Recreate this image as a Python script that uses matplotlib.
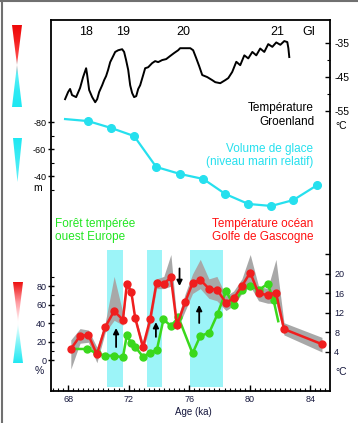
import matplotlib
matplotlib.use('Agg')
import matplotlib.pyplot as plt
import numpy as np
from matplotlib.colors import LinearSegmentedColormap
from matplotlib.patches import Polygon
from matplotlib.ticker import MultipleLocator

plt.rcParams['font.family'] = ['Liberation Sans', 'DejaVu Sans']
plt.rcParams['axes.unicode_minus'] = False

# Greenland temperature (deg C) vs age (ka)
grn_age = [67.80, 68.00, 68.13, 68.26, 68.53, 68.79, 68.99, 69.19, 69.26, 69.39,
           69.59, 69.79, 69.92, 70.05, 70.25, 70.38, 70.51, 70.64, 70.78, 70.98,
           71.11, 71.31, 71.57, 71.70, 71.83, 71.97, 72.10, 72.23, 72.36, 72.50,
           72.63, 72.76, 72.96, 73.09, 73.29, 73.55, 73.75, 73.95, 74.21, 74.48,
           74.74, 75.01, 75.27, 75.40, 76.07, 76.26, 76.46, 76.66, 76.86, 77.19,
           77.52, 77.72, 78.05, 78.38, 78.58, 78.84, 79.11, 79.37, 79.64, 79.90,
           80.17, 80.43, 80.69, 80.96, 81.22, 81.49, 81.75, 82.02, 82.28, 82.48,
           82.55, 82.61]
grn_temp = [-51.5, -49.4, -48.5, -50.3, -50.9, -48.2, -45.0, -42.4, -44.4, -48.8,
            -50.9, -52.4, -51.5, -49.4, -47.4, -45.9, -44.7, -42.9, -40.6, -38.8,
            -37.6, -37.1, -36.8, -37.6, -40.0, -42.9, -47.4, -49.7, -50.9, -50.6,
            -48.5, -47.4, -44.4, -42.4, -42.1, -40.9, -40.3, -40.6, -40.0, -39.7,
            -38.8, -37.9, -37.1, -36.5, -36.5, -37.1, -39.4, -41.8, -44.4, -45.0,
            -45.9, -46.5, -46.8, -45.9, -45.3, -43.5, -40.5, -41.5, -38.6, -39.5,
            -37.6, -38.6, -36.6, -37.6, -35.3, -36.1, -34.8, -35.5, -34.4, -34.7,
            -36.5, -39.1]

# relative sea level (m)
sl_age = [67.80, 69.32, 70.84, 72.36, 73.82, 75.40, 76.93, 78.38, 79.90, 81.42, 82.88, 84.46]
sl_m = [-82.2, -80.7, -75.6, -69.6, -46.7, -41.5, -37.8, -26.7, -19.3, -17.8, -22.2, -33.3]

# ocean temperature, Bay of Biscay (deg C) + envelope
sst_age = [68.18, 68.79, 69.34, 69.90, 70.45, 71.04, 71.62, 71.88, 72.17, 72.43,
           72.94, 73.42, 73.84, 74.32, 74.79, 75.19, 75.74, 76.22, 76.73, 77.30,
           77.83, 78.43, 78.93, 79.48, 80.03, 80.58, 81.18, 81.73, 82.26, 84.77]
sst = [4.6, 7.3, 7.5, 3.5, 9.1, 12.4, 10.6, 17.9, 16.4, 11.0,
       5.0, 10.7, 18.2, 18.0, 19.3, 9.5, 14.3, 18.1, 18.8, 17.0,
       16.8, 14.1, 15.0, 17.5, 20.3, 16.0, 15.7, 16.2, 8.7, 5.6]
sst_hi = [6.5, 8.8, 8.5, 5.0, 10.0, 19.5, 12.0, 18.5, 17.0, 11.5,
          6.0, 11.5, 19.0, 19.5, 24.0, 10.5, 16.0, 20.0, 23.0, 19.0,
          19.5, 15.5, 16.5, 19.0, 24.0, 17.5, 17.0, 23.0, 10.0, 7.0]
sst_lo = [0.5, 5.8, 6.0, 1.8, 8.0, 10.5, 9.5, 17.0, 15.5, 10.0,
          4.0, 9.5, 17.0, 17.0, 17.5, 8.5, 12.5, 16.0, 17.0, 15.0,
          14.5, 12.5, 13.5, 16.0, 17.5, 14.5, 14.0, 14.0, 7.5, 4.0]

# temperate forest, western Europe (%)
for_age = [68.18, 69.28, 69.90, 70.45, 71.04, 71.62, 71.88, 72.17, 72.43, 72.94,
           73.42, 73.86, 74.30, 74.79, 75.29, 76.22, 76.73, 77.32, 77.87, 78.43,
           78.93, 79.48, 80.03, 80.58, 81.18, 81.57, 81.88]
for_pct = [12, 11.9, 7.2, 4.7, 4.7, 2.9, 27, 18, 14.4, 3.6,
           7.9, 10.8, 44, 36.8, 46, 7.2, 26, 29.5, 49.7, 74.6,
           59.5, 75.7, 80.4, 75.7, 82.2, 65, 42]

bands = [(70.58, 71.64), (73.2, 74.2), (76.07, 78.2)]

RED = '#f01e1e'
GREEN = '#3ad81c'
CYAN = '#26e0ee'
NAVY = '#15173d'

fig = plt.figure(figsize=(3.58, 4.23), dpi=100)
ax = fig.add_axes([51/358, 32/423, 279/358, 371/423])
ax2 = ax.twinx()
ax3 = ax.twinx()
ax4 = ax.twinx()

# cyan stadial bands and grey envelope (drawn under the curves)
for a0, a1 in bands:
    ax.axvspan(a0, a1, ymin=0.011, ymax=0.38, color='#9cf4f8', lw=0, zorder=0)
ax.fill_between(sst_age, sst_lo, sst_hi, color='#a8a8a8', lw=0,
                transform=ax2.transData, zorder=1)

ax.plot(for_age, for_pct, color=GREEN, lw=1.8, marker='o', ms=5,
        markevery=list(range(1, len(for_age) - 1)), zorder=2)
ax2.plot(sst_age, sst, color=RED, lw=1.8, marker='o', ms=5, zorder=3)
ax3.plot(grn_age, grn_temp, color='black', lw=1.4)
ax4.plot(sl_age, sl_m, color=CYAN, lw=1.6, marker='o', ms=5.5,
         markevery=list(range(1, len(sl_age))))

# arrows
arr = dict(arrowstyle='-|>', color='black', lw=1.3, mutation_scale=8, shrinkA=0, shrinkB=0)
ax.annotate('', xy=(71.17, 34.6), xytext=(71.17, 14), arrowprops=arr)
ax.annotate('', xy=(73.80, 41), xytext=(73.80, 25), arrowprops=arr)
ax.annotate('', xy=(76.66, 59.5), xytext=(76.66, 40), arrowprops=arr)
ax.annotate('', xy=(75.36, 80), xytext=(75.36, 99), arrowprops=arr)

ax.set_xlim(66.87, 85.3)
ax.set_ylim(-33.5, 367.6)
ax2.set_ylim(-4.0, 72.1)
ax3.set_ylim(-137.4, -28.2)
ax4.set_ylim(119.3, -155.6)

for s in ax.spines.values():
    s.set_linewidth(1.3)
for a in (ax2, ax3, ax4):
    for s in a.spines.values():
        s.set_visible(False)

ax.xaxis.set_major_locator(MultipleLocator(4))
ax.xaxis.set_minor_locator(MultipleLocator(1/3))
ax.tick_params(axis='x', which='major', direction='in', length=4, width=1,
               labelsize=6.5, pad=3, labelcolor=NAVY)
ax.tick_params(axis='x', which='minor', direction='in', length=2.5, width=0.8)

ax.set_yticks([0, 20, 40, 60, 80])
ax.set_yticks([10, 30, 50, 70, 90], minor=True)
ax.tick_params(axis='y', which='major', direction='inout', length=4, width=1,
               labelsize=6.5, pad=1.5, labelcolor=NAVY)
ax.tick_params(axis='y', which='minor', direction='in', length=2.5, width=0.8)

ax4.yaxis.tick_left()
ax4.set_yticks([-80, -60, -40])
ax4.set_yticks([-70, -50, -30], minor=True)
ax4.tick_params(axis='y', which='major', direction='inout', length=4, width=1,
                labelsize=6.5, pad=1.5)
ax4.tick_params(axis='y', which='minor', direction='in', length=2.5, width=0.8)

ax3.set_yticks([-35, -45, -55])
ax3.set_yticks([-40, -50], minor=True)
ax3.tick_params(axis='y', which='major', direction='in', length=3.5, width=1,
                labelsize=7.5, pad=3)
ax3.tick_params(axis='y', which='minor', direction='in', length=2.5, width=0.8)

ax2.set_yticks([4, 8, 12, 16, 20])
ax2.set_yticks([24], minor=True)
ax2.tick_params(axis='y', which='major', direction='in', length=3.5, width=1,
                labelsize=6.5, pad=3, labelcolor=NAVY)
ax2.tick_params(axis='y', which='minor', direction='in', length=3.5, width=1)

# overlay in pixel units for labels and colour keys
deco = fig.add_axes([0, 0, 1, 1])


def key(pts, colors):
    xs = [p[0] for p in pts]
    ys = [p[1] for p in pts]
    cmap = LinearSegmentedColormap.from_list('k', colors)
    im = deco.imshow(np.linspace(0, 1, 256).reshape(-1, 1), cmap=cmap, aspect='auto',
                     extent=(min(xs), max(xs), max(ys), min(ys)))
    poly = Polygon(pts, closed=True, facecolor='none', edgecolor='none')
    deco.add_patch(poly)
    im.set_clip_path(poly)


key([(12, 25), (22, 25), (17, 65), (22, 107), (12, 107), (17, 65)],
    ['#ee0808', '#f52020', '#ff4a4a', '#5af0f8', '#30eaf4', '#1ee8f2'])
key([(13, 138), (22, 138), (17.5, 182)], ['#1ee8f2', '#60f0f8'])
key([(13, 282), (23, 282), (18, 323), (23, 363), (13, 363), (18, 323)],
    ['#ee1010', '#ff9aa0', '#ffffff', '#80f4f8', '#22e8f2'])

deco.plot([1.5, 1.5], [0, 423], color='#707070', lw=1.5)
deco.plot([0, 358], [1, 1], color='#707070', lw=1.5)

for lab, px in zip(['18', '19', '20', '21', 'GI'], [86, 123, 183, 277, 309]):
    deco.text(px, 32, lab, ha='center', va='center', fontsize=9)

deco.text(314, 115, 'Température\nGroenland', ha='right', va='center',
          fontsize=8.5, linespacing=1.15)
deco.text(313, 155.5, 'Volume de glace\n(niveau marin relatif)', ha='right',
          va='center', fontsize=8.5, linespacing=1.15, color=CYAN)
deco.text(313, 230.5, 'Température océan\nGolfe de Gascogne', ha='right',
          va='center', fontsize=8.5, linespacing=1.15, color='#ff1010')
deco.text(55, 230.5, 'Forêt tempérée\nouest Europe', ha='left',
          va='center', fontsize=8.5, linespacing=1.15, color='#22e622')
deco.text(193, 412, 'Age (ka)', ha='center', va='center', fontsize=7, color=NAVY)
deco.text(335, 126, '°C', ha='left', va='center', fontsize=7.5)
deco.text(335, 372, '°C', ha='left', va='center', fontsize=7.5, color=NAVY)
deco.text(38, 188, 'm', ha='center', va='center', fontsize=7.5)
deco.text(39, 371, '%', ha='center', va='center', fontsize=7.5, color=NAVY)

deco.set_xlim(0, 358)
deco.set_ylim(423, 0)
deco.axis('off')

fig.savefig('out.png', dpi=100)
